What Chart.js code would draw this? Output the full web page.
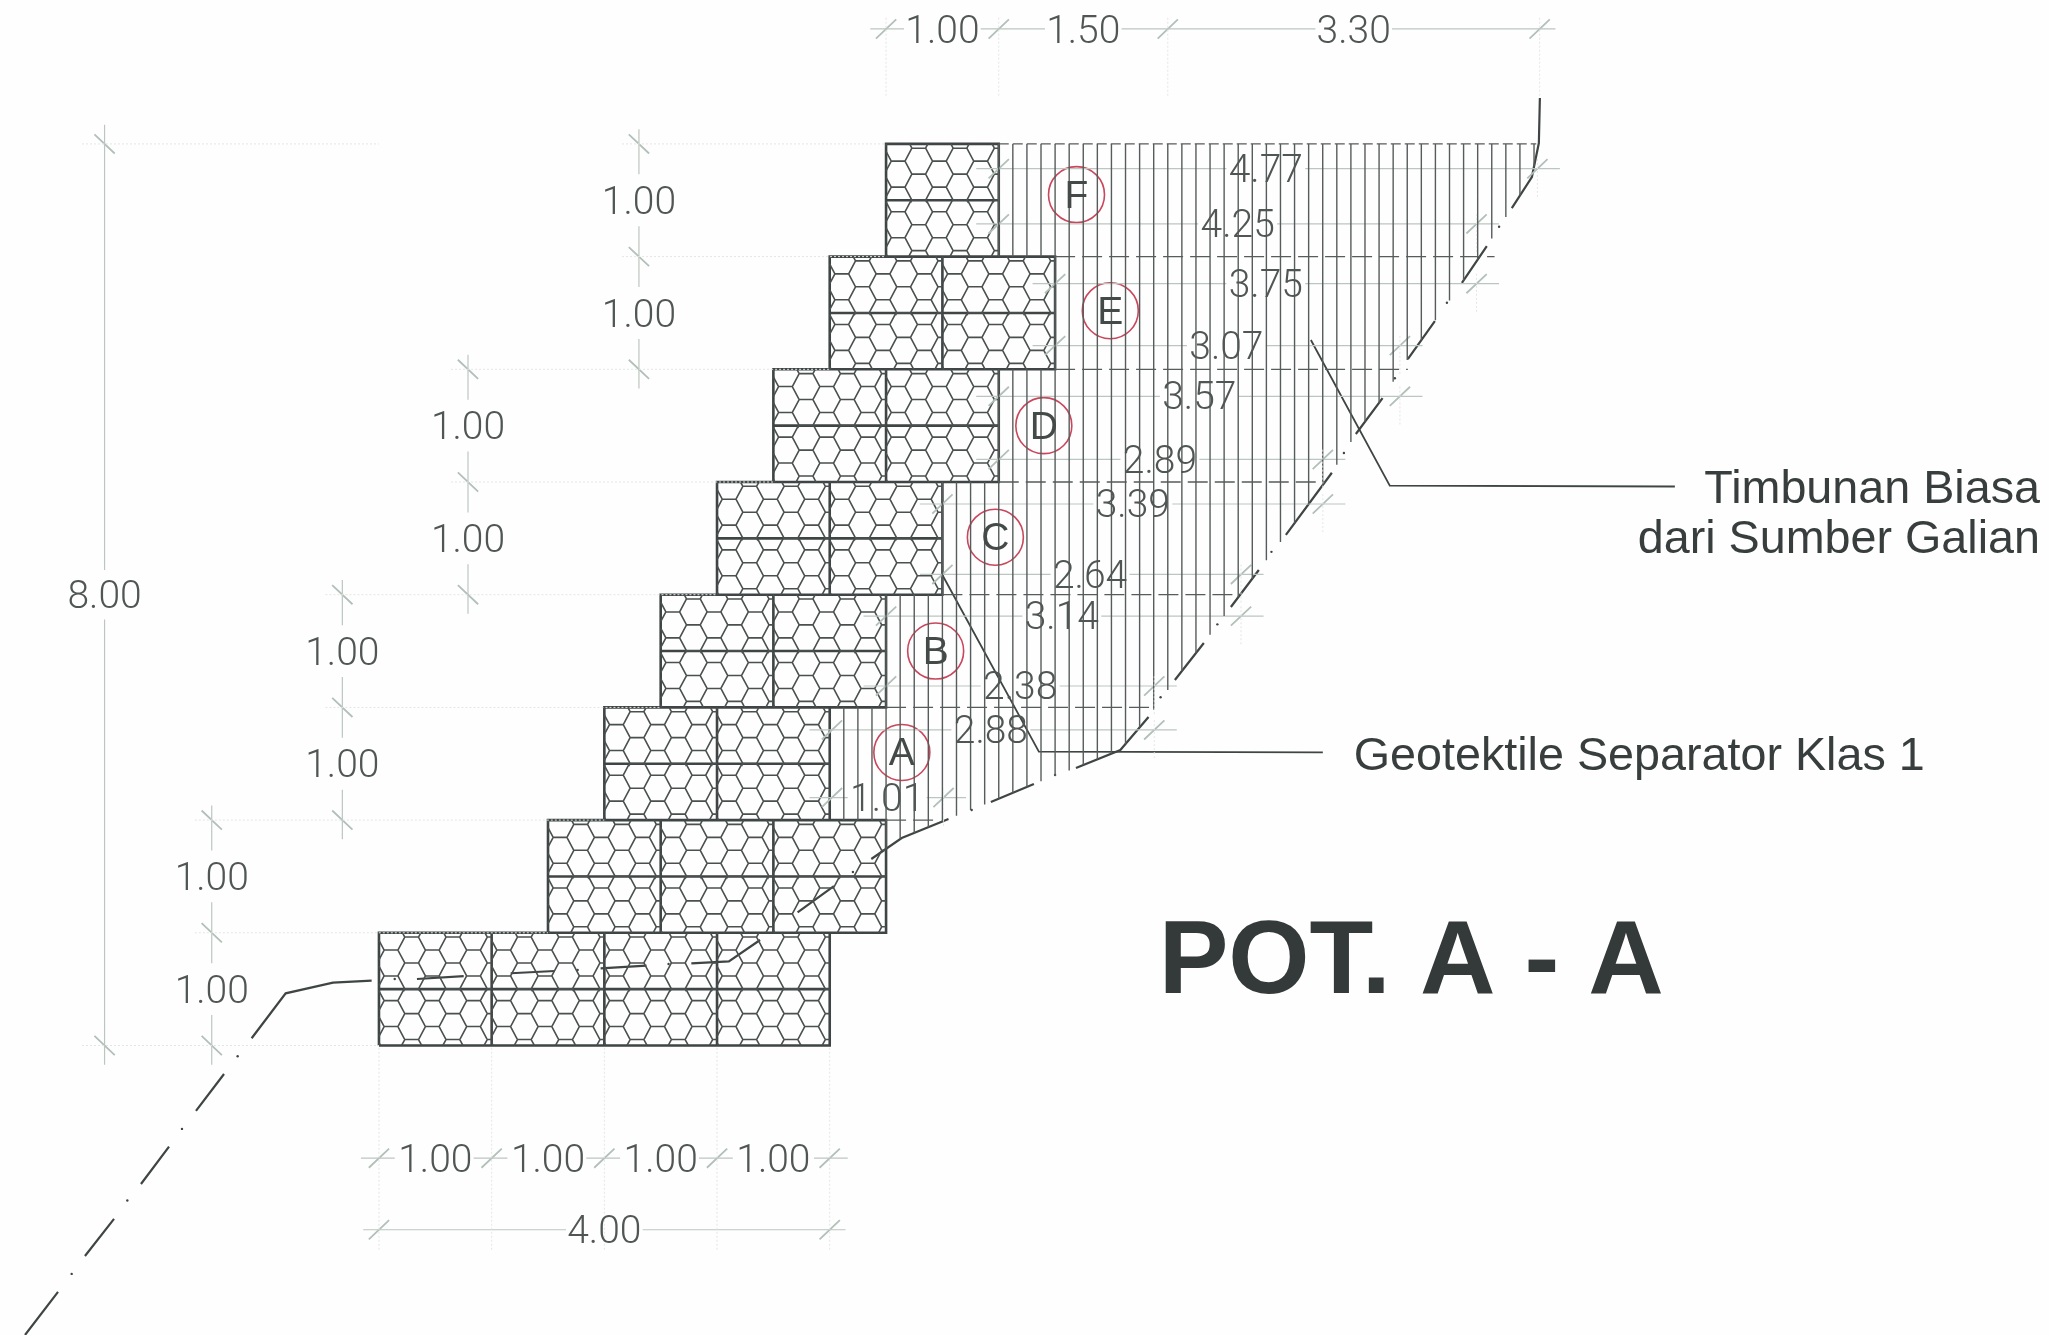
<!DOCTYPE html>
<html lang="id">
<head>
<meta charset="utf-8">
<title>POT. A - A</title>
<script src="https://cdn.jsdelivr.net/npm/chart.js@4"></script>
<style>
  html, body { margin: 0; padding: 0; background: #fefefe; }
  canvas { display: block; }
</style>
</head>
<body>
<canvas id="section-chart" width="2049" height="1335"></canvas>
<script>
// all coordinates are metres, x = 0 at the toe of the gabion wall, y = 0 at its base
const rowBottom = [0, 1, 2, 3, 4, 5, 6, 7];
const rowLeft = [0, 1.5, 2, 2.5, 3, 3.5, 4, 4.5];
const rowBoxes = [4, 3, 2, 2, 2, 2, 2, 1];

// ground line
const slopeDashes = [
  [[-3.141, -2.569], [-2.848, -2.187]],
  [[-2.609, -1.868], [-2.351, -1.539]],
  [[-2.112, -1.229], [-1.863, -0.898]],
  [[-1.624, -0.581], [-1.375, -0.253]],
  [[-1.13, 0.064], [-0.828, 0.463], [-0.408, 0.557], [-0.065, 0.575]],
  [[0.337, 0.59], [0.752, 0.615]],
  [[1.169, 0.641], [1.559, 0.661]],
  [[1.967, 0.685], [2.374, 0.708]],
  [[2.772, 0.729], [3.105, 0.747], [3.382, 0.936]],
  [[3.715, 1.182], [4.037, 1.415]],
  [[4.369, 1.655], [4.639, 1.841], [5.054, 2.01]],
  [[5.43, 2.161], [5.812, 2.32]],
  [[6.185, 2.462], [6.579, 2.622], [6.829, 2.915]],
  [[7.063, 3.243], [7.32, 3.571]],
  [[7.56, 3.891], [7.808, 4.219]],
  [[8.048, 4.53], [8.456, 5.082]],
  [[8.669, 5.426], [8.906, 5.745]],
  [[9.13, 6.091], [9.37, 6.428]],
  [[9.61, 6.766], [9.831, 7.094]],
  [[10.053, 7.431], [10.231, 7.706], [10.293, 8.008], [10.302, 8.407]]
];
const slopeDotX = [-2.727, -2.233, -1.748, -1.254, 0.14, 1.763, 2.57, 4.206, 5.26, 6.0, 6.936, 7.44, 7.92, 8.563, 9.015, 9.477, 9.94];
const slopeDotY = [-2.027, -1.376, -0.74, -0.096, 0.59, 0.67, 0.723, 1.54, 2.09, 2.4, 3.09, 3.737, 4.38, 5.257, 5.92, 6.59, 7.265];

// dashed lift lines in the fill
const liftY = [8, 7, 6, 5, 4, 3, 2];
const liftStart = [5.5, 6, 6, 5.5, 5, 4.5, 4.5];
const liftEnd = [10.27, 9.9, 9.13, 8.4, 7.62, 6.88, 4.95];

// dimensions across the fill
const fillValues = ['4.77', '4.25', '3.75', '3.07', '3.57', '2.89', '3.39', '2.64', '3.14', '2.38', '2.88', '1.01'];
const fillY = [7.78, 7.29, 6.76, 6.21, 5.76, 5.2, 4.805, 4.18, 3.81, 3.19, 2.8, 2.2];
const fillFrom = [5.5, 5.5, 6, 6, 5.5, 5.5, 5, 5, 4.5, 4.5, 4.02, 4.02];
const fillTo = [10.28, 9.74, 9.74, 9.06, 9.06, 8.376, 8.376, 7.65, 7.65, 6.88, 6.88, 5.01];
const fillLabelX = [7.87, 7.62, 7.87, 7.52, 7.28, 6.93, 6.69, 6.31, 6.06, 5.69, 5.43, 4.51];

// dimensions outside the wall
const topTicks = [4.5, 5.5, 7, 10.3];
const topValues = ['1.00', '1.50', '3.30'];
const topLabelX = [5, 6.25, 8.65];
const baseTicks = [0, 1, 2, 3, 4];
const baseValues = ['1.00', '1.00', '1.00', '1.00'];
const totalValue = '4.00';
const sideX = [-1.484, -0.325, 0.79, 2.307];
const sideStart = [0, 2, 4, 6];
const overallValue = '8.00';
const overallX = -2.435;

// layer markers
const layerNames = ['F', 'E', 'D', 'C', 'B', 'A'];
const layerX = [6.19, 6.49, 5.9, 5.47, 4.94, 4.64];
const layerY = [7.55, 6.52, 5.5, 4.51, 3.5, 2.6];

const leaderLines = [
  [[8.27, 6.26], [8.97, 4.967], [11.5, 4.96]],
  [[5, 4.175], [5.856, 2.607], [8.376, 2.6]]
];

const darkLine = '#3f4544';
const hatchLine = '#565c5b';
const dimLine = '#bcc6c1';
const dimTick = '#b2c0b8';
const faintLine = '#e2e6e4';
const dimText = '#505654';

function toPoints(polylines) {
  const points = [];
  polylines.forEach((line) => {
    line.forEach(([x, y]) => points.push({ x, y }));
    points.push({ x: null, y: null });
  });
  return points;
}

function lineSet(polylines, color, width, dash) {
  return {
    data: toPoints(polylines),
    showLine: true,
    borderColor: color,
    borderWidth: width,
    borderDash: dash || [],
    pointRadius: 0,
    tension: 0,
    spanGaps: false
  };
}

// keeps the part of a segment inside a rectangle (Liang-Barsky)
function clipSegment(x1, y1, x2, y2, left, bottom, right, top) {
  let t0 = 0;
  let t1 = 1;
  const dx = x2 - x1;
  const dy = y2 - y1;
  const tests = [[-dx, x1 - left], [dx, right - x1], [-dy, y1 - bottom], [dy, top - y1]];
  for (const [p, q] of tests) {
    if (p === 0) {
      if (q < 0) return null;
    } else if (p < 0) {
      t0 = Math.max(t0, q / p);
    } else {
      t1 = Math.min(t1, q / p);
    }
  }
  if (t0 >= t1) return null;
  return [[x1 + t0 * dx, y1 + t0 * dy], [x1 + t1 * dx, y1 + t1 * dy]];
}

// wire mesh of one gabion layer, 1.00 wide and 0.50 high
function meshLayer(left, bottom, phaseY, out) {
  const side = 0.122;
  const height = 0.23;
  for (let i = -3; i < 6; i++) {
    for (let j = -3; j < 3; j++) {
      const cx = left + 0.29 + i * side * 1.5;
      const cy = bottom + phaseY + j * height + (i % 2 !== 0 ? height / 2 : 0);
      const edges = [
        [cx - side / 2, cy + height / 2, cx + side / 2, cy + height / 2],
        [cx + side / 2, cy + height / 2, cx + side, cy],
        [cx + side, cy, cx + side / 2, cy - height / 2]
      ];
      edges.forEach((e) => {
        const part = clipSegment(e[0], e[1], e[2], e[3], left, bottom, left + 1, bottom + 0.5);
        if (part) out.push(part);
      });
    }
  }
}

function buildGabions() {
  const mesh = [];
  const frames = [];
  rowBottom.forEach((bottom, r) => {
    const left = rowLeft[r];
    const right = left + rowBoxes[r];
    frames.push([[left, bottom], [right, bottom], [right, bottom + 1], [left, bottom + 1], [left, bottom]]);
    frames.push([[left, bottom + 0.5], [right, bottom + 0.5]]);
    for (let b = 0; b < rowBoxes[r]; b++) {
      if (b > 0) frames.push([[left + b, bottom], [left + b, bottom + 1]]);
      meshLayer(left + b, bottom, 0.398, mesh);
      meshLayer(left + b, bottom + 0.5, 0.347, mesh);
    }
  });
  return { mesh, frames };
}

function groundAt(x) {
  const profile = slopeDashes.flat();
  for (let i = 1; i < profile.length; i++) {
    if (x <= profile[i][0]) {
      const [x1, y1] = profile[i - 1];
      const [x2, y2] = profile[i];
      return y1 + (y2 - y1) * (x - x1) / (x2 - x1);
    }
  }
  return 8;
}

// vertical hatch of the fill, every 0.125, stepped around the wall
function buildHatch() {
  const lines = [];
  for (let k = 33; k <= 82; k++) {
    const x = k * 0.125;
    const foot = groundAt(x);
    if (x < 4.5) lines.push([[x, 2], [x, 3]]);
    else if (x < 5) lines.push([[x, foot], [x, 4]]);
    else if (x < 5.5) lines.push([[x, foot], [x, 5]]);
    else if (x < 6) {
      lines.push([[x, foot], [x, 6]]);
      lines.push([[x, 7], [x, 8]]);
    } else lines.push([[x, foot], [x, 8]]);
  }
  return lines;
}

function slashH(x, y) {
  return [[x - 0.09, y - 0.085], [x + 0.09, y + 0.085]];
}

function slashV(x, y) {
  return [[x - 0.09, y + 0.085], [x + 0.09, y - 0.085]];
}

function buildDimensions() {
  const lines = [];
  const ticks = [];
  const faint = [];

  // across the fill, the line stops either side of its number
  fillValues.forEach((value, i) => {
    const y = fillY[i];
    const gap = 0.35;
    lines.push([[fillFrom[i] - 0.2, y], [fillLabelX[i] - gap, y]]);
    lines.push([[fillLabelX[i] + gap, y], [fillTo[i] + 0.2, y]]);
    ticks.push(slashH(fillFrom[i], y));
    ticks.push(slashH(fillTo[i], y));
    faint.push([[fillTo[i], y - 0.25], [fillTo[i], y + 0.1]]);
  });

  // top chain
  const topY = 9.02;
  let cursor = topTicks[0] - 0.14;
  topValues.forEach((value, i) => {
    lines.push([[cursor, topY], [topLabelX[i] - 0.34, topY]]);
    cursor = topLabelX[i] + 0.34;
  });
  lines.push([[cursor, topY], [topTicks[3] + 0.14, topY]]);
  topTicks.forEach((x) => {
    ticks.push(slashH(x, topY));
    faint.push([[x, 9.12], [x, 8.42]]);
  });

  // base chains, the total only has ticks at its ends
  const baseY = -1;
  const totalY = -1.635;
  baseTicks.forEach((x, i) => {
    ticks.push(slashH(x, baseY));
    faint.push([[x, -0.02], [x, -1.82]]);
    if (i < baseValues.length) lines.push([[x - 0.16, baseY], [x + 0.14, baseY]]);
  });
  ticks.push(slashH(0, totalY));
  ticks.push(slashH(4, totalY));
  lines.push([[3.86, baseY], [4.16, baseY]]);
  lines.push([[-0.14, totalY], [1.66, totalY]]);
  lines.push([[2.34, totalY], [4.14, totalY]]);

  // side stacks
  sideX.forEach((x, i) => {
    const y0 = sideStart[i];
    lines.push([[x, y0 - 0.17], [x, y0 + 0.27]]);
    lines.push([[x, y0 + 0.73], [x, y0 + 1.27]]);
    lines.push([[x, y0 + 1.73], [x, y0 + 2.13]]);
    [0, 1, 2].forEach((n) => ticks.push(slashV(x, y0 + n)));
    const boxEdge = rowLeft[Math.min(y0 + 2, 7)];
    faint.push([[x - 0.15, y0 + 2], [boxEdge, y0 + 2]]);
    faint.push([[x - 0.15, y0 + 1], [rowLeft[y0 + 1], y0 + 1]]);
  });

  // overall height
  lines.push([[overallX, -0.17], [overallX, 3.78]]);
  lines.push([[overallX, 4.22], [overallX, 8.17]]);
  ticks.push(slashV(overallX, 0));
  ticks.push(slashV(overallX, 8));
  faint.push([[overallX - 0.2, 8], [0, 8]]);
  faint.push([[overallX - 0.2, 0], [0, 0]]);

  return { lines, ticks, faint };
}

const sectionLabels = {
  id: 'sectionLabels',
  afterDatasetsDraw(chart) {
    const ctx = chart.ctx;
    const sx = chart.scales.x;
    const sy = chart.scales.y;
    function put(text, x, y, font, color, align, baseline) {
      ctx.font = font;
      ctx.fillStyle = color;
      ctx.textAlign = align || 'center';
      ctx.textBaseline = baseline || 'middle';
      ctx.fillText(text, sx.getPixelForValue(x), sy.getPixelForValue(y));
    }
    const dimFont = '300 39px Roboto, "Liberation Sans", sans-serif';
    const noteFont = '46.7px "Liberation Sans", sans-serif';
    const drop = 0.035;

    ctx.save();
    fillValues.forEach((value, i) => put(value, fillLabelX[i], fillY[i] - 0.03, dimFont, dimText));
    topValues.forEach((value, i) => put(value, topLabelX[i], 9.02 - drop, dimFont, dimText));
    baseValues.forEach((value, i) => put(value, i + 0.5, -1 - drop, dimFont, dimText));
    put(totalValue, 2, -1.635 - drop, dimFont, dimText);
    sideX.forEach((x, i) => {
      put('1.00', x, sideStart[i] + 0.5 - drop, dimFont, dimText);
      put('1.00', x, sideStart[i] + 1.5 - drop, dimFont, dimText);
    });
    put(overallValue, overallX, 4 - drop, dimFont, dimText);
    layerNames.forEach((name, i) => put(name, layerX[i], layerY[i] - 0.02, '39px "Liberation Sans", sans-serif', '#434a48'));
    put('Timbunan Biasa', 14.74, 4.813, noteFont, '#383e3d', 'right', 'alphabetic');
    put('dari Sumber Galian', 14.74, 4.372, noteFont, '#383e3d', 'right', 'alphabetic');
    put('Geotektile Separator Klas 1', 8.65, 2.445, noteFont, '#383e3d', 'left', 'alphabetic');
    put('POT. A - A', 9.16, 0.47, 'bold 104.5px "Liberation Sans", sans-serif', '#343a39', 'center', 'alphabetic');
    ctx.restore();
  }
};

function renderSection() {
  const gabions = buildGabions();
  const dims = buildDimensions();
  const lifts = liftY.map((y, i) => [[liftStart[i], y], [liftEnd[i], y]]);

  const datasets = [
    lineSet(dims.faint, faintLine, 1, [2, 2]),
    lineSet(buildHatch(), hatchLine, 1.4),
    lineSet(lifts.slice(1), hatchLine, 1.3, [20, 7]),
    lineSet(lifts.slice(0, 1), hatchLine, 1.3, [10, 4]),
    lineSet(dims.lines, dimLine, 1.2),
    lineSet(dims.ticks, dimTick, 1.8),
    lineSet(gabions.mesh, '#4a504f', 1.6),
    lineSet(gabions.frames, darkLine, 2.6),
    lineSet(slopeDashes, darkLine, 2.2),
    lineSet(leaderLines, darkLine, 1.8),
    {
      data: slopeDotX.map((x, i) => ({ x, y: slopeDotY[i] })),
      pointRadius: 1.2,
      pointBackgroundColor: darkLine,
      pointBorderWidth: 0,
      showLine: false
    },
    {
      data: layerX.map((x, i) => ({ x, y: layerY[i] })),
      pointRadius: 28,
      pointBackgroundColor: 'rgba(0,0,0,0)',
      pointBorderColor: '#c9475c',
      pointBorderWidth: 1.6,
      showLine: false
    }
  ];

  new Chart(document.getElementById('section-chart'), {
    type: 'scatter',
    data: { datasets },
    plugins: [sectionLabels],
    options: {
      responsive: false,
      animation: false,
      devicePixelRatio: 1,
      layout: { padding: 0, autoPadding: false },
      events: [],
      plugins: { legend: { display: false }, tooltip: { enabled: false }, title: { display: false } },
      scales: {
        x: { type: 'linear', min: -3.363, max: 14.82, display: false },
        y: { type: 'linear', min: -2.569, max: 9.277, display: false }
      }
    }
  });
}

renderSection();
</script>
</body>
</html>
